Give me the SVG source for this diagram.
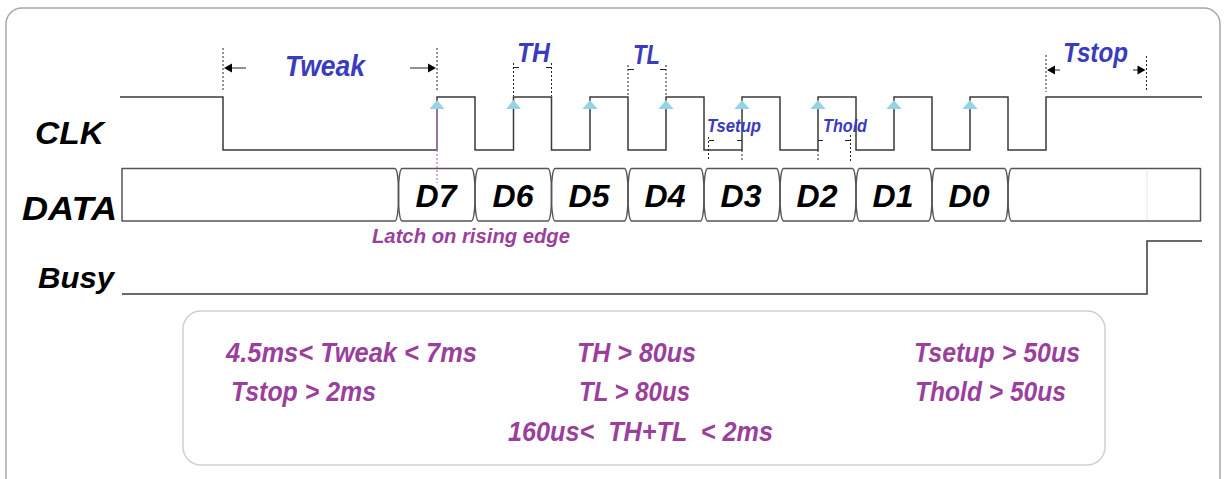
<svg xmlns="http://www.w3.org/2000/svg" width="1224" height="479" viewBox="0 0 1224 479">
<style>
.sig{fill:none;stroke:#3a3a3a;stroke-width:1.5}
.dash{fill:none;stroke:#222;stroke-width:1;stroke-dasharray:2 2}
.tick{fill:none;stroke:#222;stroke-width:1}
.lbl{font-family:"Liberation Sans",Arial,sans-serif;font-weight:bold;font-style:italic;fill:#000}
.blue{font-family:"Liberation Sans",Arial,sans-serif;font-weight:bold;font-style:italic;fill:#3b3bbd}
.purp{font-family:"Liberation Sans",Arial,sans-serif;font-weight:bold;font-style:italic;fill:#9b3f9c}
.tri{fill:#96d3e4}
.arr{fill:#000}
.cell{fill:none;stroke:#555;stroke-width:1.5;stroke-linejoin:round}
</style>
<defs>
<path id="tri" class="tri" d="M0,0 l7.5,9 h-15 z"/>
</defs>
<rect x="0" y="0" width="1224" height="479" fill="#fff"/>
<rect x="6" y="8" width="1214" height="520" rx="16" fill="none" stroke="#a8a8a8" stroke-width="1.5"/>

<g id="labels">
<text class="lbl" x="35" y="144" font-size="32" textLength="69" lengthAdjust="spacingAndGlyphs">CLK</text>
<text class="lbl" x="22" y="220" font-size="33" textLength="95" lengthAdjust="spacingAndGlyphs">DATA</text>
<text class="lbl" x="38" y="288" font-size="30" textLength="76" lengthAdjust="spacingAndGlyphs">Busy</text>
</g>

<g id="clk">
<path class="sig" d="M120,97 H223 V150 H437 V97 H475 V150 H513.5 V97 H551.5 V150 H590 V97 H628 V150 H666 V97 H704 V150 H742 V97 H780 V150 H818 V97 H856 V150 H894 V97 H932 V150 H970 V97 H1008 V150 H1046 V97 H1202"/>
<use href="#tri" x="437" y="100"/>
<use href="#tri" x="513.5" y="100"/>
<use href="#tri" x="590" y="100"/>
<use href="#tri" x="666" y="100"/>
<use href="#tri" x="742" y="100"/>
<use href="#tri" x="818" y="100"/>
<use href="#tri" x="894" y="100"/>
<use href="#tri" x="970" y="100"/>
</g>

<g id="data">
<path class="cell" d="M122,168.5 H395 Q397.5,169 398.5,186 V203 Q397.5,220.5 395,221 H122 Z"/>
<path class="cell" d="M402,168.5 H471.5 Q474,169 475,186 V203 Q474,220.5 471.5,221 H402 Q399.5,220.5 398.5,203 V186 Q399.5,169 402,168.5 Z"/>
<path class="cell" d="M478.5,168.5 H548 Q550.5,169 551.5,186 V203 Q550.5,220.5 548,221 H478.5 Q476,220.5 475,203 V186 Q476,169 478.5,168.5 Z"/>
<path class="cell" d="M555,168.5 H624.5 Q627,169 628,186 V203 Q627,220.5 624.5,221 H555 Q552.5,220.5 551.5,203 V186 Q552.5,169 555,168.5 Z"/>
<path class="cell" d="M631.5,168.5 H700.5 Q703,169 704,186 V203 Q703,220.5 700.5,221 H631.5 Q629,220.5 628,203 V186 Q629,169 631.5,168.5 Z"/>
<path class="cell" d="M707.5,168.5 H776.5 Q779,169 780,186 V203 Q779,220.5 776.5,221 H707.5 Q705,220.5 704,203 V186 Q705,169 707.5,168.5 Z"/>
<path class="cell" d="M783.5,168.5 H852.5 Q855,169 856,186 V203 Q855,220.5 852.5,221 H783.5 Q781,220.5 780,203 V186 Q781,169 783.5,168.5 Z"/>
<path class="cell" d="M859.5,168.5 H928.5 Q931,169 932,186 V203 Q931,220.5 928.5,221 H859.5 Q857,220.5 856,203 V186 Q857,169 859.5,168.5 Z"/>
<path class="cell" d="M935.5,168.5 H1004.5 Q1007,169 1008,186 V203 Q1007,220.5 1004.5,221 H935.5 Q933,220.5 932,203 V186 Q933,169 935.5,168.5 Z"/>
<path class="cell" d="M1011.5,168.5 H1200.5 V221 H1011.5 Q1009,220.5 1008,203 V186 Q1009,169 1011.5,168.5 Z"/>
<line x1="1147" y1="169.5" x2="1147" y2="220" stroke="#e6e6e6" stroke-width="1"/>
<g class="lbl" font-size="32" text-anchor="middle">
<text x="436" y="207">D7</text>
<text x="513" y="207">D6</text>
<text x="589" y="207">D5</text>
<text x="665" y="207">D4</text>
<text x="741" y="207">D3</text>
<text x="817" y="207">D2</text>
<text x="893" y="207">D1</text>
<text x="969" y="207">D0</text>
</g>
</g>

<g id="busy">
<path class="sig" d="M122,294 H1147 V241 H1202"/>
</g>

<g id="latch">
<line x1="437" y1="109" x2="437" y2="150" stroke="#b67cc0" stroke-width="1.2"/>
<line x1="437" y1="150" x2="437" y2="183" stroke="#b67cc0" stroke-width="1.2" stroke-dasharray="2 2"/>
<text class="purp" x="372" y="243" font-size="21" textLength="198" lengthAdjust="spacingAndGlyphs" fill="#a452ad">Latch on rising edge</text>
</g>

<g id="connectors">
<line class="dash" x1="223" y1="48" x2="223" y2="90"/>
<line class="dash" x1="437" y1="48" x2="437" y2="90"/>
<line class="tick" x1="230" y1="68" x2="246" y2="68"/>
<polygon class="arr" points="224,68 232,63.5 232,72.5"/>
<line class="tick" x1="410" y1="68" x2="429" y2="68"/>
<polygon class="arr" points="436,68 428,63.5 428,72.5"/>
<line class="dash" x1="513.5" y1="63" x2="513.5" y2="96"/>
<line class="dash" x1="551.5" y1="63" x2="551.5" y2="96"/>
<path class="tick" d="M513.5,67.5 H519 M546,67.5 H551.5"/>
<line class="dash" x1="628" y1="65" x2="628" y2="96"/>
<line class="dash" x1="666" y1="65" x2="666" y2="96"/>
<path class="tick" d="M628,69.5 H634 M660,69.5 H666"/>
<line class="dash" x1="708.5" y1="137" x2="708.5" y2="161"/>
<line class="dash" x1="742" y1="150" x2="742" y2="161"/>
<path class="tick" d="M709,140.5 H714 M737,140.5 H742"/>
<line class="dash" x1="818" y1="150" x2="818" y2="161"/>
<line class="dash" x1="850.5" y1="135" x2="850.5" y2="161"/>
<path class="tick" d="M818,140.5 H823 M845,140.5 H850.5"/>
<line class="dash" x1="1046" y1="55" x2="1046" y2="92"/>
<line class="dash" x1="1146.5" y1="56" x2="1146.5" y2="92"/>
<polygon class="arr" points="1047,70 1055,65.5 1055,74.5"/>
<line class="tick" x1="1054" y1="70" x2="1060" y2="70"/>
<line class="tick" x1="1133" y1="70" x2="1139" y2="70"/>
<polygon class="arr" points="1145.5,70 1137.5,65.5 1137.5,74.5"/>
</g>

<g id="dim-labels">
<text class="blue" x="285" y="76" font-size="29" textLength="80" lengthAdjust="spacingAndGlyphs">Tweak</text>
<text class="blue" x="517" y="62" font-size="28" textLength="33" lengthAdjust="spacingAndGlyphs">TH</text>
<text class="blue" x="633" y="64" font-size="28" textLength="27" lengthAdjust="spacingAndGlyphs">TL</text>
<text class="blue" x="707" y="132" font-size="18" textLength="54" lengthAdjust="spacingAndGlyphs">Tsetup</text>
<text class="blue" x="823" y="132" font-size="18" textLength="44" lengthAdjust="spacingAndGlyphs">Thold</text>
<text class="blue" x="1063" y="62" font-size="28" textLength="65" lengthAdjust="spacingAndGlyphs">Tstop</text>
</g>

<g id="notes">
<rect x="183" y="311" width="922" height="154" rx="18" fill="none" stroke="#cfcfcf" stroke-width="1.5"/>
<g class="purp" font-size="28">
<text x="226" y="362" textLength="251" lengthAdjust="spacingAndGlyphs">4.5ms&lt; Tweak &lt; 7ms</text>
<text x="231" y="401" textLength="145" lengthAdjust="spacingAndGlyphs">Tstop &gt; 2ms</text>
<text x="577" y="362" textLength="119" lengthAdjust="spacingAndGlyphs">TH &gt; 80us</text>
<text x="579" y="401" textLength="111" lengthAdjust="spacingAndGlyphs">TL &gt; 80us</text>
<text x="508" y="441" textLength="265" lengthAdjust="spacingAndGlyphs" xml:space="preserve">160us&lt;  TH+TL  &lt; 2ms</text>
<text x="914" y="362" textLength="166" lengthAdjust="spacingAndGlyphs">Tsetup &gt; 50us</text>
<text x="915" y="401" textLength="151" lengthAdjust="spacingAndGlyphs">Thold &gt; 50us</text>
</g>
</g>
</svg>
